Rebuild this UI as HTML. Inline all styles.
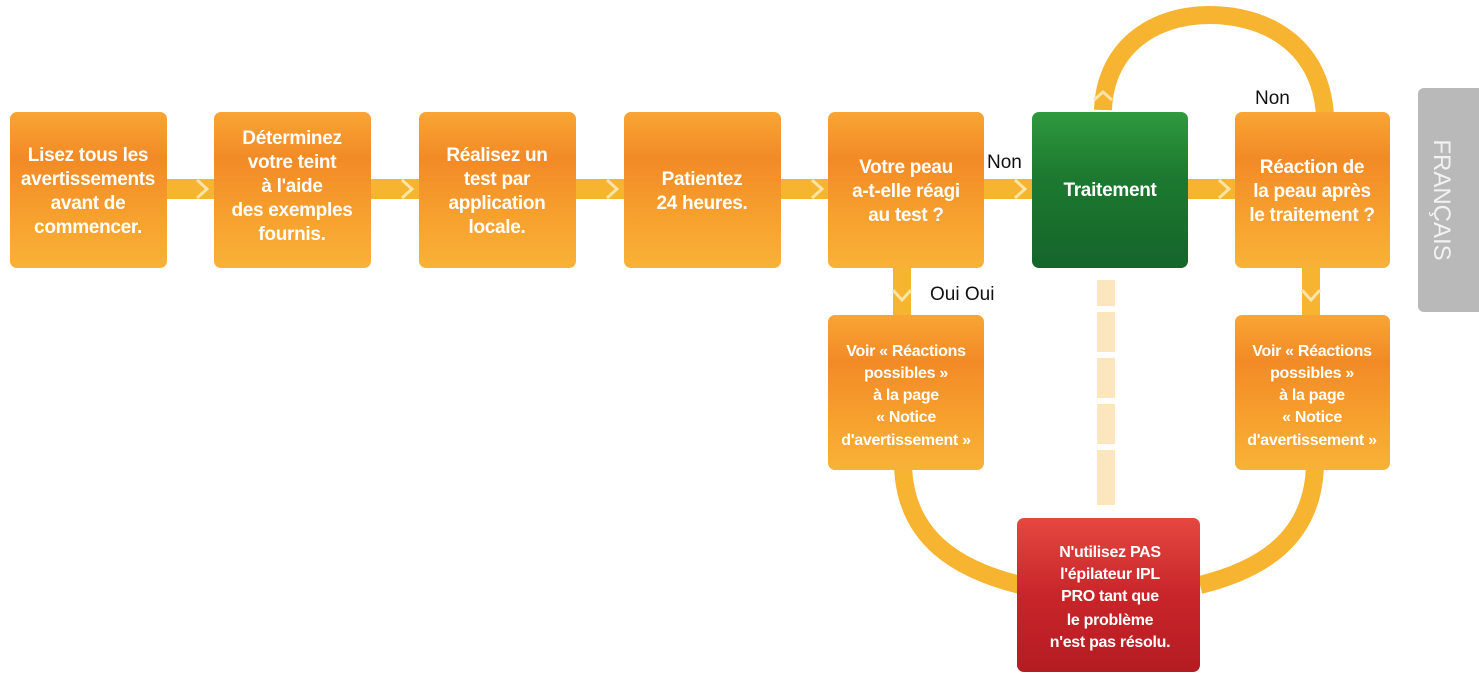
<!DOCTYPE html>
<html><head><meta charset="utf-8"><style>
body{margin:0;background:#fff;}
svg text{font-family:"Liberation Sans",sans-serif;}
</style></head><body>
<svg width="1479" height="678" viewBox="0 0 1479 678" xmlns="http://www.w3.org/2000/svg">
<defs>
<linearGradient id="o" x1="0" y1="0" x2="0" y2="1">
<stop offset="0" stop-color="#f9a534"/><stop offset="0.3" stop-color="#f28a26"/><stop offset="0.7" stop-color="#f7a22f"/><stop offset="1" stop-color="#f8b238"/></linearGradient>
<linearGradient id="g" x1="0" y1="0" x2="0" y2="1">
<stop offset="0" stop-color="#2f9a3e"/><stop offset="0.4" stop-color="#1d7a30"/><stop offset="1" stop-color="#14652a"/></linearGradient>
<linearGradient id="r" x1="0" y1="0" x2="0" y2="1">
<stop offset="0" stop-color="#e5483f"/><stop offset="0.5" stop-color="#c8252a"/><stop offset="1" stop-color="#b41c22"/></linearGradient>
</defs>
<g fill="#f6b431">
<rect x="160" y="179" width="60" height="20"/>
<rect x="365" y="179" width="60" height="20"/>
<rect x="570" y="179" width="60" height="20"/>
<rect x="775" y="179" width="60" height="20"/>
<rect x="978" y="179" width="60" height="20"/>
<rect x="1182" y="179" width="60" height="20"/>
<rect x="893" y="262" width="18" height="58"/>
<rect x="1302" y="262" width="18" height="58"/>
</g>
<g fill="none" stroke="#fce3a8" stroke-width="3">
<path d="M197 180 L207 189 L197 198"/><path d="M402 180 L412 189 L402 198"/>
<path d="M607 180 L617 189 L607 198"/><path d="M812 180 L822 189 L812 198"/>
<path d="M1015 180 L1025 189 L1015 198"/><path d="M1219 180 L1229 189 L1219 198"/>
<path d="M893 290 L902 300 L911 290"/><path d="M1302 290 L1311 300 L1320 290"/>
</g>
<path d="M1325 115 C1320 40 1260 15 1210 15 C1150 15 1105 50 1103 110" fill="none" stroke="#f6b431" stroke-width="18"/>
<path d="M1094 100 L1103 92 L1112 100" fill="none" stroke="#fce3a8" stroke-width="3"/>
<g fill="#fbe6bd">
<rect x="1097" y="280" width="18" height="26"/><rect x="1097" y="312" width="18" height="40"/>
<rect x="1097" y="358" width="18" height="40"/><rect x="1097" y="404" width="18" height="40"/>
<rect x="1097" y="450" width="18" height="55"/>
</g>
<path d="M903 465 C905 540 960 570 1020 585" fill="none" stroke="#f6b431" stroke-width="18"/>
<path d="M1315 465 C1313 540 1260 570 1200 585" fill="none" stroke="#f6b431" stroke-width="18"/>
<g fill="url(#o)">
<rect x="10" y="112" width="157" height="156" rx="7"/>
<rect x="214" y="112" width="157" height="156" rx="7"/>
<rect x="419" y="112" width="157" height="156" rx="7"/>
<rect x="624" y="112" width="157" height="156" rx="7"/>
<rect x="828" y="112" width="156" height="156" rx="7"/>
<rect x="1235" y="112" width="155" height="156" rx="7"/>
<rect x="828" y="315" width="156" height="155" rx="7"/>
<rect x="1235" y="315" width="155" height="155" rx="7"/>
</g>
<rect x="1032" y="112" width="156" height="156" rx="7" fill="url(#g)"/>
<rect x="1017" y="518" width="183" height="154" rx="7" fill="url(#r)"/>
<rect x="1418" y="88" width="70" height="224" rx="6" fill="#b9b9b9"/>
<g fill="#fff" font-size="19" font-weight="bold" text-anchor="middle" letter-spacing="-0.3">
<text x="88" y="161">Lisez tous les</text><text x="88" y="185">avertissements</text><text x="88" y="209">avant de</text><text x="88" y="233">commencer.</text>
<text x="292" y="144">Déterminez</text><text x="292" y="168">votre teint</text><text x="292" y="192">à l'aide</text><text x="292" y="216">des exemples</text><text x="292" y="240">fournis.</text>
<text x="497" y="161">Réalisez un</text><text x="497" y="185">test par</text><text x="497" y="209">application</text><text x="497" y="233">locale.</text>
<text x="702" y="185">Patientez</text><text x="702" y="209">24 heures.</text>
<text x="906" y="173">Votre peau</text><text x="906" y="197">a-t-elle réagi</text><text x="906" y="221">au test ?</text>
<text x="1110" y="196">Traitement</text>
<text x="1312" y="173">Réaction de</text><text x="1312" y="197">la peau après</text><text x="1312" y="221">le traitement ?</text>
</g>
<g fill="#fff" font-size="16" font-weight="bold" text-anchor="middle" letter-spacing="-0.3">
<text x="906" y="356">Voir « Réactions</text><text x="906" y="378">possibles »</text><text x="906" y="400">à la page</text><text x="906" y="422">« Notice</text><text x="906" y="445">d'avertissement »</text>
<text x="1312" y="356">Voir « Réactions</text><text x="1312" y="378">possibles »</text><text x="1312" y="400">à la page</text><text x="1312" y="422">« Notice</text><text x="1312" y="445">d'avertissement »</text>
<text x="1110" y="557">N'utilisez PAS</text><text x="1110" y="579">l'épilateur IPL</text><text x="1110" y="601">PRO tant que</text><text x="1110" y="625">le problème</text><text x="1110" y="647">n'est pas résolu.</text>
</g>
<g fill="#111" font-size="19">
<text x="987" y="168">Non</text><text x="1255" y="104">Non</text><text x="930" y="300">Oui Oui</text>
</g>
<text x="0" y="0" fill="#f2f2f2" font-size="24" text-anchor="middle" transform="translate(1434 200) rotate(90)">FRANÇAIS</text>
</svg>
</body></html>
